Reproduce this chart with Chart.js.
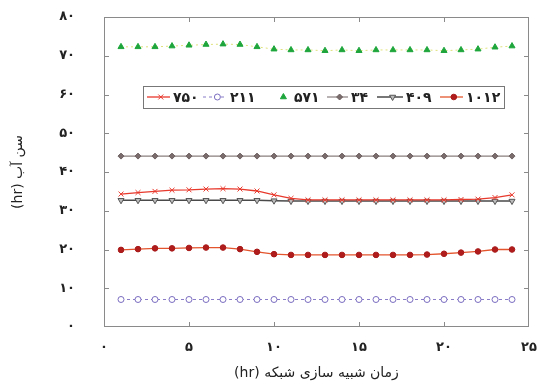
<!DOCTYPE html>
<html>
<head>
<meta charset="utf-8">
<script src="https://cdn.jsdelivr.net/npm/chart.js@4.4.1/dist/chart.umd.min.js"></script>
<style>
  html, body { margin: 0; padding: 0; background: #fff; }
  #wrap { width: 539px; height: 390px; }
</style>
</head>
<body>
<div id="wrap"><canvas id="chart" dir="rtl"></canvas></div>
<script>
// hours of the simulation (x values)
const hours = [1, 2, 3, 4, 5, 6, 7, 8, 9, 10, 11, 12, 13, 14, 15, 16, 17, 18, 19, 20, 21, 22, 23, 24];

// water age per node (hr)
const node750 = [34.3, 34.7, 35.0, 35.3, 35.4, 35.6, 35.7, 35.6, 35.1, 34.1, 33.2, 32.8, 32.8, 32.8, 32.8, 32.8, 32.8, 32.8, 32.8, 32.8, 32.9, 33.0, 33.4, 34.1];
const node211 = [7.1, 7.1, 7.1, 7.1, 7.1, 7.1, 7.1, 7.1, 7.1, 7.1, 7.1, 7.1, 7.1, 7.1, 7.1, 7.1, 7.1, 7.1, 7.1, 7.1, 7.1, 7.1, 7.1, 7.1];
const node571 = [72.3, 72.3, 72.3, 72.5, 72.7, 72.9, 73.0, 72.9, 72.3, 71.7, 71.5, 71.5, 71.3, 71.5, 71.3, 71.5, 71.5, 71.5, 71.5, 71.3, 71.5, 71.7, 72.2, 72.5];
const node34 = [44.1, 44.1, 44.1, 44.1, 44.1, 44.1, 44.1, 44.1, 44.1, 44.1, 44.1, 44.1, 44.1, 44.1, 44.1, 44.1, 44.1, 44.1, 44.1, 44.1, 44.1, 44.1, 44.1, 44.1];
const node409 = [32.7, 32.7, 32.7, 32.7, 32.7, 32.7, 32.7, 32.7, 32.7, 32.6, 32.5, 32.5, 32.5, 32.5, 32.5, 32.5, 32.5, 32.5, 32.5, 32.5, 32.5, 32.5, 32.5, 32.5];
const node1012 = [19.9, 20.1, 20.3, 20.3, 20.4, 20.5, 20.5, 20.1, 19.4, 18.8, 18.6, 18.6, 18.6, 18.6, 18.6, 18.6, 18.6, 18.6, 18.7, 18.9, 19.2, 19.5, 20.0, 20.0];

const seriesLabels = ['۷۵۰', '۲۱۱', '۵۷۱', '۳۴', '۴۰۹', '۱۰۱۲'];
const xTitle = 'زمان شبیه سازی شبکه (hr)';
const yTitle = 'سن آب (hr)';

const faDigits = '۰۱۲۳۴۵۶۷۸۹';
function toFa(n) {
    return String(n).replace(/[0-9]/g, d => faDigits[d]);
}

function pts(values) {
    return hours.map((h, i) => ({ x: h, y: values[i] }));
}

const FONT = "'DejaVu Sans', sans-serif";

// where each legend entry starts: [line start, text start]
const legendSlots = [[147, 173], [203, 230], [272, 294], [327, 351], [377, 406], [440, 466]];

// frame, inner tick marks and the boxed legend
const framePlugin = {
    id: 'frame',
    afterDatasetsDraw(chart) {
        const ctx = chart.ctx;
        const a = chart.chartArea;
        const xs = chart.scales.x;
        const ys = chart.scales.y;
        ctx.save();
        ctx.strokeStyle = '#8a8a8a';
        ctx.lineWidth = 1;
        ctx.strokeRect(a.left + 0.5, a.top + 0.5, a.right - a.left - 1, a.bottom - a.top - 1);
        ctx.beginPath();
        for (let v = 10; v < 80; v += 10) {
            const py = Math.round(ys.getPixelForValue(v)) + 0.5;
            ctx.moveTo(a.left, py); ctx.lineTo(a.left + 5, py);
            ctx.moveTo(a.right, py); ctx.lineTo(a.right - 5, py);
        }
        for (let v = 5; v < 25; v += 5) {
            const px = Math.round(xs.getPixelForValue(v)) + 0.5;
            ctx.moveTo(px, a.bottom); ctx.lineTo(px, a.bottom - 5);
            ctx.moveTo(px, a.top); ctx.lineTo(px, a.top + 5);
        }
        ctx.stroke();

        // legend
        const box = { left: 143, top: 86, right: 504, bottom: 108 };
        ctx.fillStyle = '#fff';
        ctx.fillRect(box.left, box.top, box.right - box.left, box.bottom - box.top);
        ctx.strokeStyle = '#777';
        ctx.strokeRect(box.left + 0.5, box.top + 0.5, box.right - box.left, box.bottom - box.top);
        const cy = (box.top + box.bottom) / 2;
        ctx.font = 'bold 14px ' + FONT;
        ctx.textBaseline = 'middle';
        ctx.textAlign = 'left';
        ctx.direction = 'ltr';
        chart.data.datasets.forEach((ds, i) => {
            const [x0, tx] = legendSlots[i];
            const x1 = tx - 3;
            if (ds.showLegendLine !== false) {
                ctx.save();
                ctx.strokeStyle = ds.borderColor;
                ctx.lineWidth = ds.borderWidth;
                ctx.setLineDash(ds.borderDash || []);
                ctx.beginPath();
                ctx.moveTo(x0, cy); ctx.lineTo(x1, cy);
                ctx.stroke();
                ctx.restore();
            }
            ctx.save();
            ctx.fillStyle = ds.pointBackgroundColor;
            ctx.strokeStyle = ds.pointBorderColor;
            ctx.lineWidth = ds.pointBorderWidth;
            Chart.helpers.drawPoint(ctx, {
                pointStyle: ds.pointStyle,
                radius: ds.pointRadius,
                rotation: ds.pointRotation || 0,
                borderWidth: ds.pointBorderWidth
            }, x0 + (x1 - x0) * 0.6, cy);
            ctx.restore();
            ctx.fillStyle = '#222';
            ctx.fillText(ds.label, tx, cy + 1);
        });
        ctx.restore();
    }
};

new Chart(document.getElementById('chart'), {
    type: 'line',
    data: {
        datasets: [
            {
                label: seriesLabels[0], data: pts(node750),
                borderColor: '#e8392d', borderWidth: 1.3,
                pointStyle: 'crossRot', pointRadius: 3.5, pointBorderWidth: 1,
                pointBorderColor: '#e8392d', pointBackgroundColor: '#e8392d'
            },
            {
                label: seriesLabels[1], data: pts(node211),
                borderColor: '#8a7cc8', borderWidth: 1, borderDash: [3, 3],
                pointStyle: 'circle', pointRadius: 3, pointBorderWidth: 1,
                pointBorderColor: '#7a6cc0', pointBackgroundColor: '#fff'
            },
            {
                label: seriesLabels[2], data: pts(node571),
                borderColor: '#dfe27a', borderWidth: 1, borderDash: [2, 3],
                showLegendLine: false,
                pointStyle: 'triangle', pointRadius: 3.5, pointBorderWidth: 1,
                pointBorderColor: '#1ea63c', pointBackgroundColor: '#1ea63c'
            },
            {
                label: seriesLabels[3], data: pts(node34),
                borderColor: '#8a7e7e', borderWidth: 1.2,
                pointStyle: 'rectRot', pointRadius: 3, pointBorderWidth: 1,
                pointBorderColor: '#6e6060', pointBackgroundColor: '#7a6c6c'
            },
            {
                label: seriesLabels[4], data: pts(node409),
                borderColor: '#4a4a4a', borderWidth: 1.5,
                pointStyle: 'triangle', pointRotation: 180, pointRadius: 3.5, pointBorderWidth: 1,
                pointBorderColor: '#555', pointBackgroundColor: '#bbb'
            },
            {
                label: seriesLabels[5], data: pts(node1012),
                borderColor: '#e4552e', borderWidth: 1.3,
                pointStyle: 'circle', pointRadius: 2.8, pointBorderWidth: 1,
                pointBorderColor: '#a81a1a', pointBackgroundColor: '#b01c1c'
            }
        ]
    },
    options: {
        responsive: true,
        maintainAspectRatio: false,
        animation: false,
        layout: { padding: { top: 17, right: 10, left: 10, bottom: 8 } },
        plugins: {
            legend: { display: false },
            tooltip: { enabled: false }
        },
        elements: { line: { tension: 0 } },
        scales: {
            x: {
                type: 'linear', min: 0, max: 25,
                border: { display: false },
                grid: { display: false },
                ticks: {
                    stepSize: 5, padding: 5, color: '#222',
                    font: { family: FONT, size: 13, weight: 'bold' },
                    callback: v => toFa(v)
                },
                title: {
                    display: true, text: xTitle, color: '#222',
                    font: { family: FONT, size: 14 },
                    padding: { top: 0, bottom: 0 }
                },
                afterFit(scale) {
                    scale.height = 55;
                    scale.paddingLeft = 0;
                    scale.paddingRight = 0;
                }
            },
            y: {
                min: 0, max: 80,
                border: { display: false },
                grid: { display: false },
                ticks: {
                    stepSize: 10, padding: 21, color: '#222',
                    font: { family: FONT, size: 13, weight: 'bold' },
                    callback: v => toFa(v)
                },
                title: {
                    display: true, text: yTitle, color: '#222',
                    font: { family: FONT, size: 14 },
                    padding: { top: 0, bottom: 0 }
                },
                afterFit(scale) {
                    scale.width = 94;
                    scale.paddingTop = 0;
                    scale.paddingBottom = 0;
                }
            }
        }
    },
    plugins: [framePlugin]
});
</script>
</body>
</html>
